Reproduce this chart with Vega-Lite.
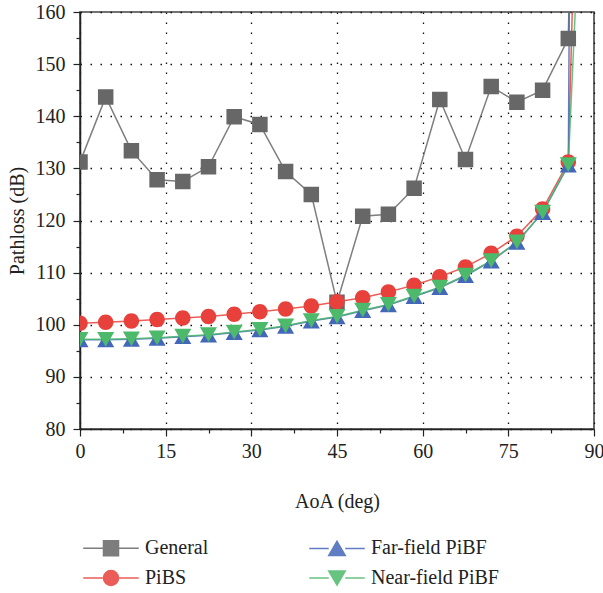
{
  "$schema": "https://vega.github.io/schema/vega-lite/v6.json",
  "width": 514,
  "height": 417,
  "autosize": {"type": "none"},
  "padding": {"left": 80, "top": 12, "right": 9, "bottom": 164},
  "background": "white",
  "config": {
    "font": "Liberation Serif",
    "view": {"stroke": "#444444", "strokeWidth": 1.6},
    "axis": {
      "labelFont": "Liberation Serif",
      "titleFont": "Liberation Serif",
      "labelFontSize": 20,
      "titleFontSize": 20,
      "labelColor": "#222222",
      "titleColor": "#222222",
      "titleFontWeight": "normal",
      "domainColor": "#222222",
      "domainWidth": 1.5,
      "tickColor": "#222222",
      "tickWidth": 1.2,
      "gridColor": "#111111",
      "gridDash": [1.5, 8.5],
      "gridWidth": 1.3
    },
    "legend": {"labelFont": "Liberation Serif", "labelFontSize": 20, "labelColor": "#222222"}
  },
  "data": {
    "values": [
      {"aoa": 0, "pl": 131.2, "series": "General"},
      {"aoa": 4.5, "pl": 143.7, "series": "General"},
      {"aoa": 9, "pl": 133.4, "series": "General"},
      {"aoa": 13.5, "pl": 127.8, "series": "General"},
      {"aoa": 18, "pl": 127.5, "series": "General"},
      {"aoa": 22.5, "pl": 130.3, "series": "General"},
      {"aoa": 27, "pl": 139.9, "series": "General"},
      {"aoa": 31.5, "pl": 138.4, "series": "General"},
      {"aoa": 36, "pl": 129.4, "series": "General"},
      {"aoa": 40.5, "pl": 125.0, "series": "General"},
      {"aoa": 45, "pl": 104.3, "series": "General"},
      {"aoa": 49.5, "pl": 120.8, "series": "General"},
      {"aoa": 54, "pl": 121.2, "series": "General"},
      {"aoa": 58.5, "pl": 126.2, "series": "General"},
      {"aoa": 63, "pl": 143.2, "series": "General"},
      {"aoa": 67.5, "pl": 131.7, "series": "General"},
      {"aoa": 72, "pl": 145.7, "series": "General"},
      {"aoa": 76.5, "pl": 142.7, "series": "General"},
      {"aoa": 81, "pl": 145.0, "series": "General"},
      {"aoa": 85.5, "pl": 154.9, "series": "General"},
      {"aoa": 90, "pl": 400, "series": "General"},
      {"aoa": 0, "pl": 100.3, "series": "PiBS"},
      {"aoa": 4.5, "pl": 100.5, "series": "PiBS"},
      {"aoa": 9, "pl": 100.7, "series": "PiBS"},
      {"aoa": 13.5, "pl": 101.0, "series": "PiBS"},
      {"aoa": 18, "pl": 101.3, "series": "PiBS"},
      {"aoa": 22.5, "pl": 101.6, "series": "PiBS"},
      {"aoa": 27, "pl": 102.0, "series": "PiBS"},
      {"aoa": 31.5, "pl": 102.5, "series": "PiBS"},
      {"aoa": 36, "pl": 103.0, "series": "PiBS"},
      {"aoa": 40.5, "pl": 103.6, "series": "PiBS"},
      {"aoa": 45, "pl": 104.4, "series": "PiBS"},
      {"aoa": 49.5, "pl": 105.2, "series": "PiBS"},
      {"aoa": 54, "pl": 106.3, "series": "PiBS"},
      {"aoa": 58.5, "pl": 107.6, "series": "PiBS"},
      {"aoa": 63, "pl": 109.2, "series": "PiBS"},
      {"aoa": 67.5, "pl": 111.1, "series": "PiBS"},
      {"aoa": 72, "pl": 113.7, "series": "PiBS"},
      {"aoa": 76.5, "pl": 117.0, "series": "PiBS"},
      {"aoa": 81, "pl": 122.2, "series": "PiBS"},
      {"aoa": 85.5, "pl": 131.2, "series": "PiBS"},
      {"aoa": 90, "pl": 320, "series": "PiBS"},
      {"aoa": 0, "pl": 97.1, "series": "Far-field PiBF"},
      {"aoa": 4.5, "pl": 97.1, "series": "Far-field PiBF"},
      {"aoa": 9, "pl": 97.2, "series": "Far-field PiBF"},
      {"aoa": 13.5, "pl": 97.4, "series": "Far-field PiBF"},
      {"aoa": 18, "pl": 97.7, "series": "Far-field PiBF"},
      {"aoa": 22.5, "pl": 98.0, "series": "Far-field PiBF"},
      {"aoa": 27, "pl": 98.5, "series": "Far-field PiBF"},
      {"aoa": 31.5, "pl": 99.0, "series": "Far-field PiBF"},
      {"aoa": 36, "pl": 99.7, "series": "Far-field PiBF"},
      {"aoa": 40.5, "pl": 100.7, "series": "Far-field PiBF"},
      {"aoa": 45, "pl": 101.5, "series": "Far-field PiBF"},
      {"aoa": 49.5, "pl": 102.7, "series": "Far-field PiBF"},
      {"aoa": 54, "pl": 103.8, "series": "Far-field PiBF"},
      {"aoa": 58.5, "pl": 105.4, "series": "Far-field PiBF"},
      {"aoa": 63, "pl": 107.1, "series": "Far-field PiBF"},
      {"aoa": 67.5, "pl": 109.4, "series": "Far-field PiBF"},
      {"aoa": 72, "pl": 112.2, "series": "Far-field PiBF"},
      {"aoa": 76.5, "pl": 115.8, "series": "Far-field PiBF"},
      {"aoa": 81, "pl": 121.5, "series": "Far-field PiBF"},
      {"aoa": 85.5, "pl": 130.6, "series": "Far-field PiBF"},
      {"aoa": 90, "pl": 900, "series": "Far-field PiBF"},
      {"aoa": 0, "pl": 97.2, "series": "Near-field PiBF"},
      {"aoa": 4.5, "pl": 97.2, "series": "Near-field PiBF"},
      {"aoa": 9, "pl": 97.3, "series": "Near-field PiBF"},
      {"aoa": 13.5, "pl": 97.5, "series": "Near-field PiBF"},
      {"aoa": 18, "pl": 97.8, "series": "Near-field PiBF"},
      {"aoa": 22.5, "pl": 98.1, "series": "Near-field PiBF"},
      {"aoa": 27, "pl": 98.6, "series": "Near-field PiBF"},
      {"aoa": 31.5, "pl": 99.1, "series": "Near-field PiBF"},
      {"aoa": 36, "pl": 99.8, "series": "Near-field PiBF"},
      {"aoa": 40.5, "pl": 100.8, "series": "Near-field PiBF"},
      {"aoa": 45, "pl": 101.6, "series": "Near-field PiBF"},
      {"aoa": 49.5, "pl": 102.8, "series": "Near-field PiBF"},
      {"aoa": 54, "pl": 103.9, "series": "Near-field PiBF"},
      {"aoa": 58.5, "pl": 105.5, "series": "Near-field PiBF"},
      {"aoa": 63, "pl": 107.2, "series": "Near-field PiBF"},
      {"aoa": 67.5, "pl": 109.5, "series": "Near-field PiBF"},
      {"aoa": 72, "pl": 112.3, "series": "Near-field PiBF"},
      {"aoa": 76.5, "pl": 115.9, "series": "Near-field PiBF"},
      {"aoa": 81, "pl": 121.6, "series": "Near-field PiBF"},
      {"aoa": 85.5, "pl": 130.7, "series": "Near-field PiBF"},
      {"aoa": 90, "pl": 240, "series": "Near-field PiBF"}
    ]
  },
  "encoding": {
    "x": {
      "field": "aoa", "type": "quantitative",
      "scale": {"domain": [0, 90], "nice": false},
      "axis": {
        "title": "AoA (deg)",
        "values": [0, 7.5, 15, 22.5, 30, 37.5, 45, 52.5, 60, 67.5, 75, 82.5, 90],
        "labelExpr": "datum.value % 15 === 0 ? datum.label : ''",
        "tickSize": {"condition": {"test": "datum.value % 15 === 0", "value": 7}, "value": 4},
        "gridOpacity": {"condition": {"test": "datum.value % 15 === 0", "value": 1}, "value": 0},
        "labelPadding": 5,
        "titlePadding": 30,
        "grid": true,
        "labelFlush": false,
        "labelOverlap": false
      }
    },
    "y": {
      "field": "pl", "type": "quantitative",
      "scale": {"domain": [80, 160], "nice": false},
      "axis": {
        "title": "Pathloss (dB)",
        "values": [80, 85, 90, 95, 100, 105, 110, 115, 120, 125, 130, 135, 140, 145, 150, 155, 160],
        "labelExpr": "datum.value % 10 === 0 ? datum.label : ''",
        "tickSize": {"condition": {"test": "datum.value % 10 === 0", "value": 7}, "value": 4},
        "gridOpacity": {"condition": {"test": "datum.value % 10 === 0", "value": 1}, "value": 0},
        "labelPadding": 8,
        "titlePadding": 8,
        "grid": true,
        "labelFlush": false,
        "labelOverlap": false
      }
    },
    "color": {
      "field": "series", "type": "nominal",
      "scale": {
        "domain": ["General", "PiBS", "Far-field PiBF", "Near-field PiBF"],
        "range": ["#676767", "#e8413c", "#4567b9", "#4cb96b"]
      },
      "legend": {
        "title": null,
        "orient": "none",
        "legendX": 21,
        "legendY": 526,
        "columns": 2,
        "columnPadding": 97,
        "rowPadding": 8,
        "padding": 0,
        "symbolSize": 225,
        "labelOffset": 24,
        "encode": {
          "symbols": {
            "update": {
              "fill": {"scale": "color", "field": "value"},
              "stroke": {"scale": "color", "field": "value"},
              "strokeWidth": {"value": 2},
              "strokeOpacity": {"value": 0.7},
              "fillOpacity": {"value": 1},
              "opacity": {"value": 1}
            }
          }
        }
      }
    },
    "shape": {
      "field": "series", "type": "nominal",
      "scale": {
        "domain": ["General", "PiBS", "Far-field PiBF", "Near-field PiBF"],
        "range": [
          "M-3.7,0H-1M1,0H3.7M-1,-1H1V1H-1Z",
          "M-3.7,0H-1M1,0H3.7M1,0A1,1,0,1,1,-1,0A1,1,0,1,1,1,0Z",
          "M-3.7,0H-1.1M1.1,0H3.7M0,-0.95L1.1,0.95H-1.1Z",
          "M-3.7,0H-1.1M1.1,0H3.7M0,0.95L1.1,-0.95H-1.1Z"
        ]
      },
      "legend": {"title": null}
    }
  },
  "layer": [
    {
      "mark": {"type": "line", "strokeWidth": 1.5, "clip": true, "opacity": 0.85}
    },
    {
      "transform": [{"filter": "datum.aoa < 90"}],
      "mark": {"type": "point", "filled": true, "opacity": 1, "strokeWidth": 0, "size": 240, "clip": true}
    }
  ]
}
